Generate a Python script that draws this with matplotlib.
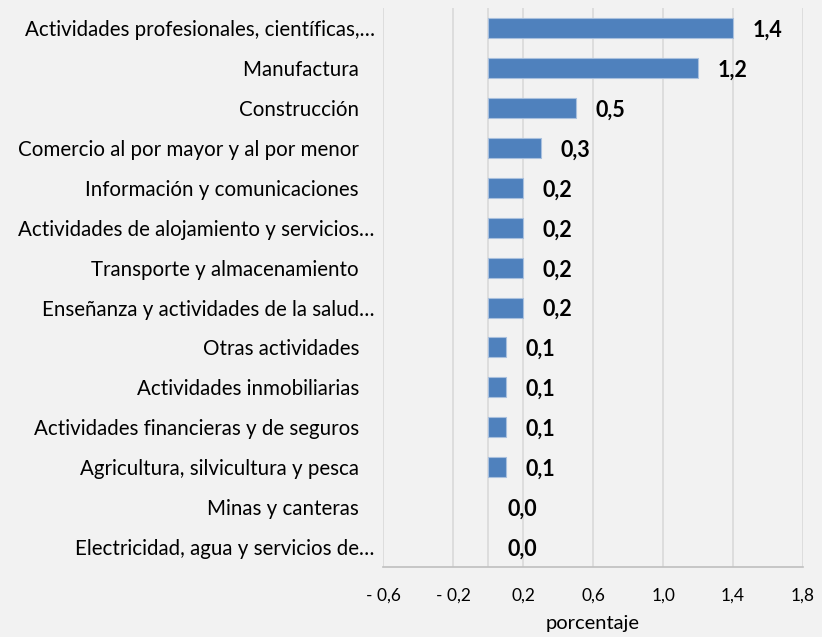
import matplotlib
matplotlib.use("Agg")
import matplotlib.pyplot as plt
import numpy as np

# datos (de arriba hacia abajo)
sectores = [
    "Actividades profesionales, científicas,…",
    "Manufactura",
    "Construcción",
    "Comercio al por mayor y al por menor",
    "Información y comunicaciones",
    "Actividades de alojamiento y servicios…",
    "Transporte y almacenamiento",
    "Enseñanza y actividades de la salud…",
    "Otras actividades",
    "Actividades inmobiliarias",
    "Actividades financieras y de seguros",
    "Agricultura, silvicultura y pesca",
    "Minas y canteras",
    "Electricidad, agua y servicios de…",
]
valores = [1.4, 1.2, 0.5, 0.3, 0.2, 0.2, 0.2, 0.2, 0.1, 0.1, 0.1, 0.1, 0.0, 0.0]
ticks_x = [-0.6, -0.2, 0.2, 0.6, 1.0, 1.4, 1.8]

plt.rcParams['font.family'] = ['Lato', 'DejaVu Sans']
fondo = '#f2f2f2'

fig = plt.figure(figsize=(8.22, 6.37), dpi=100, facecolor=fondo)
ax = fig.add_axes([0.466, 0.110, 0.511, 0.877], facecolor=fondo)

n = len(sectores)
y = np.arange(n)[::-1]

bordes = [0.8 if v != 0 else 0 for v in valores]
ax.barh(y, valores, height=0.5, color='#4f81bd', edgecolor='#a9c0de', linewidth=bordes, zorder=3)

for yi, v in zip(y, valores):
    ax.annotate(f"{v:.1f}".replace('.', ','), xy=(v, yi), xytext=(14, -1.5),
                textcoords='offset points', ha='left', va='center',
                fontsize=15.5, fontweight='bold', color='black')

# etiquetas: las que no llevan "…" tienen espacios extra al final
etiquetas = [s if s.endswith('…') else s + '   ' for s in sectores]
ax.set_yticks(y)
ax.set_yticklabels(etiquetas, fontsize=14.8)
ax.tick_params(axis='y', length=0, pad=6)

ax.set_xlim(-0.6, 1.8)
ax.set_ylim(-0.5, n - 0.5)
ax.set_xticks(ticks_x)
ax.set_xticklabels([("- " + f"{abs(t):.1f}" if t < 0 else f"{t:.1f}").replace('.', ',') for t in ticks_x],
                   fontsize=12.5)
ax.tick_params(axis='x', length=0, pad=15)
ax.grid(axis='x', color='#d9d9d9', linewidth=1.2, zorder=0)
ax.axvline(0, color='#d9d9d9', linewidth=1.2, zorder=1)

for s in ['top', 'right', 'left']:
    ax.spines[s].set_visible(False)
ax.spines['bottom'].set_color('#bfbfbf')
ax.spines['bottom'].set_linewidth(1.2)

ax.set_xlabel('porcentaje', fontsize=14.5, labelpad=8)

fig.savefig('out.png', dpi=100, facecolor=fondo)
